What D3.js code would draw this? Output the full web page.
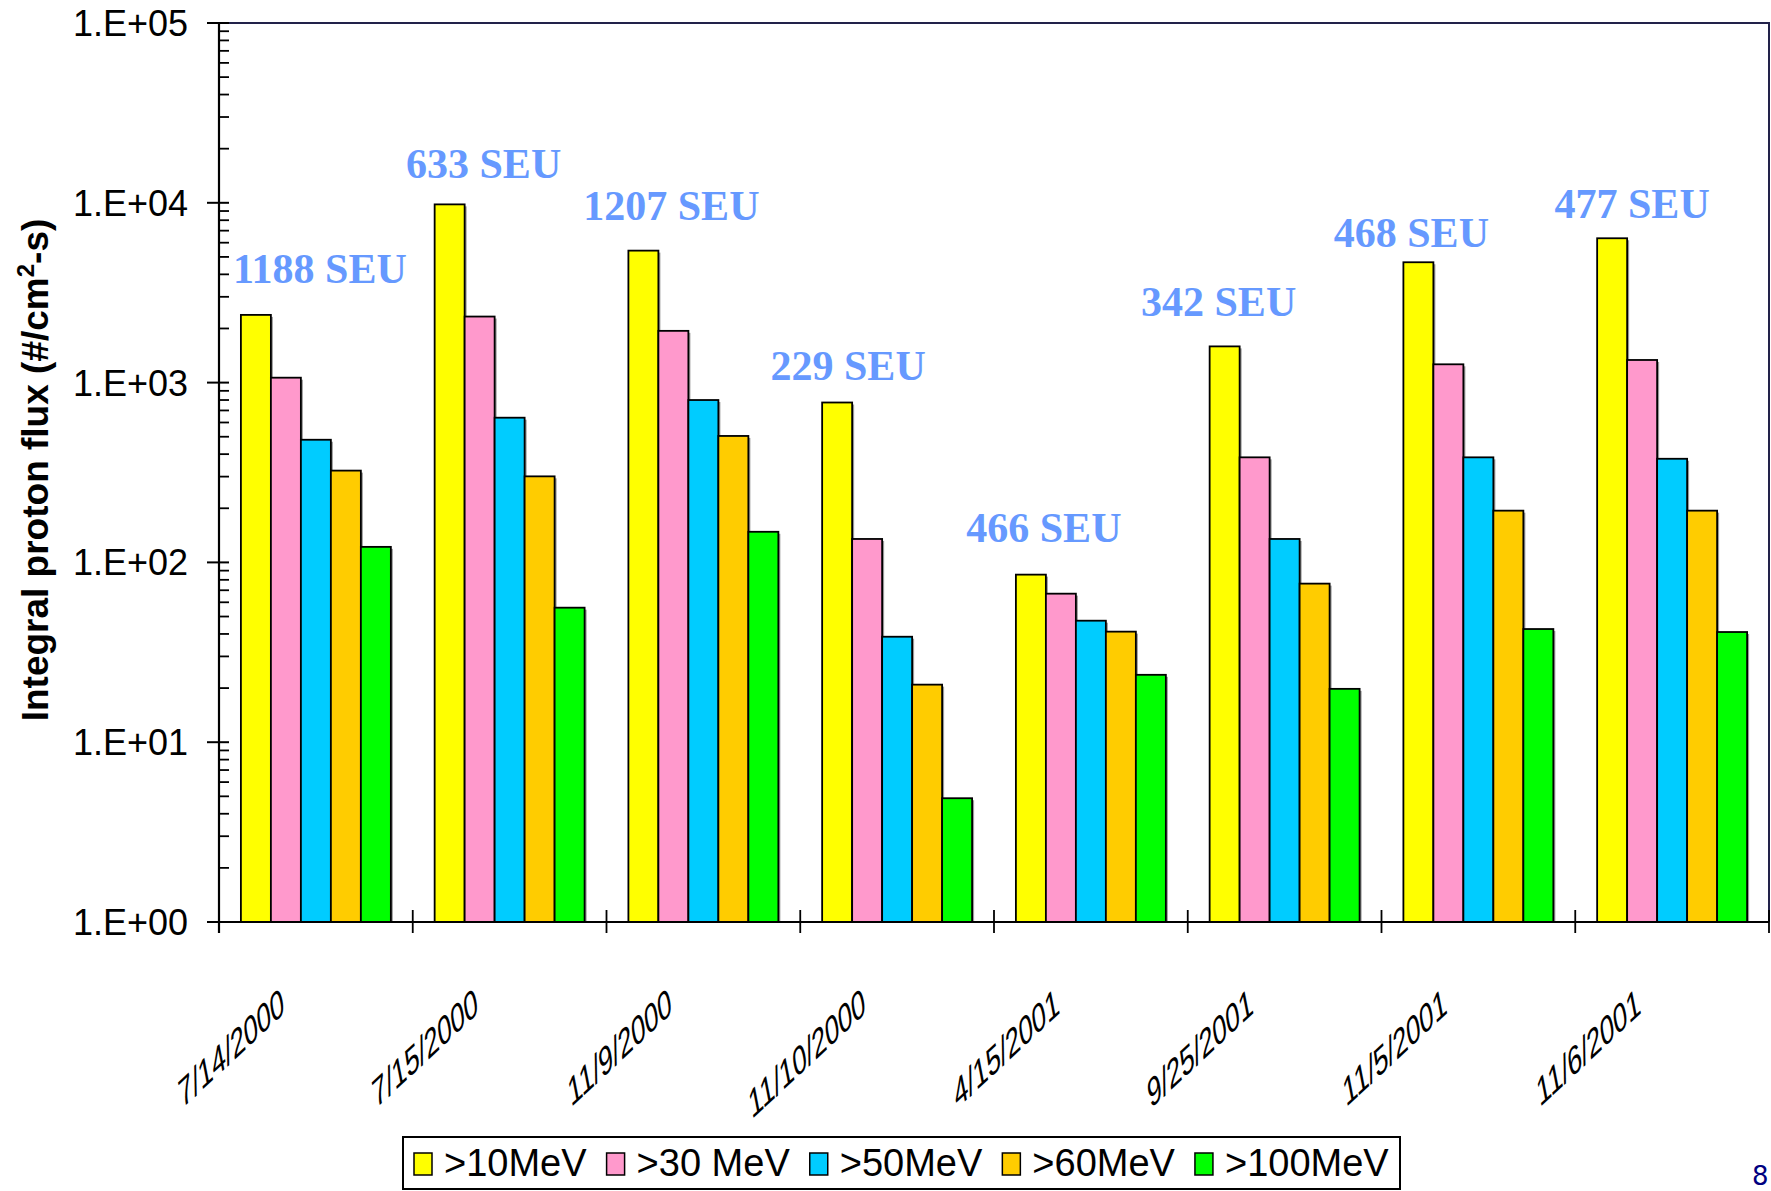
<!DOCTYPE html>
<html>
<head>
<meta charset="utf-8">
<script src="https://cdn.jsdelivr.net/npm/d3@7"></script>
<style>
  body { margin: 0; background: #fff; }
  svg { display: block; }
</style>
</head>
<body>
<svg id="chart" width="1771" height="1191"></svg>
<script>
// Solar proton events and the SEU count observed during each one
const events = ["7/14/2000", "7/15/2000", "11/9/2000", "11/10/2000",
                "4/15/2001", "9/25/2001", "11/5/2001", "11/6/2001"];
const seuCounts = [1188, 633, 1207, 229, 466, 342, 468, 477];

// Integral proton flux per energy channel, #/cm^2-s
const channels = [">10MeV", ">30 MeV", ">50MeV", ">60MeV", ">100MeV"];
const flux10  = [2380, 9800, 5420, 775, 85.5, 1590, 4670, 6350];
const flux30  = [1065, 2330, 1940, 135, 67, 384, 1264, 1336];
const flux50  = [481, 638, 800, 38.6, 47.4, 135, 384, 377];
const flux60  = [324, 301, 505, 20.9, 41.2, 76.2, 194, 194];
const flux100 = [122, 56, 148, 4.88, 23.7, 19.8, 42.6, 41];

const yTickValues = [1, 10, 100, 1000, 10000, 100000];
const yTickLabels = ["1.E+00", "1.E+01", "1.E+02", "1.E+03", "1.E+04", "1.E+05"];

const seriesColors = ["#FFFF00", "#FF99CC", "#00CCFF", "#FFCC00", "#00FF00"];
const fluxBySeries = [flux10, flux30, flux50, flux60, flux100];

// Placement of the SEU captions: offset from group centre, and baseline
// offset above the group's tallest bar
const seuLabelNudge = [[4, -32], [-26, -26], [-32, -31], [-49, -23],
                       [-47, -33], [-66, -30], [-67, -15], [-40, -20]];

const svg = d3.select("#chart");
const plotL = 219, plotR = 1769, plotT = 23, plotB = 922;

const x = d3.scaleBand().domain(events).range([plotL, plotR]).padding(0);
const xs = d3.scaleBand().domain(channels).range([0, x.bandwidth()])
  .paddingInner(0).paddingOuter(0.73);
const y = d3.scaleLog().domain([1, 1e5]).range([plotB, plotT]);

// plot frame (top and right edges)
svg.append("path")
  .attr("d", `M${plotL},${plotT}H${plotR}V${plotB}`)
  .attr("fill", "none").attr("stroke", "#22224a").attr("stroke-width", 2);

// bars, each with a thin grey drop shadow
const groups = svg.append("g").selectAll("g")
  .data(events).join("g")
  .attr("transform", d => `translate(${x(d)},0)`);

groups.each(function(ev, i) {
  const g = d3.select(this);
  channels.forEach((ch, s) => {
    const v = fluxBySeries[s][i];
    const bx = xs(ch), by = y(v), bw = xs.bandwidth();
    g.append("rect")
      .attr("x", bx + 2).attr("y", by + 2)
      .attr("width", bw).attr("height", plotB - by - 2)
      .attr("fill", "#9a9a9a");
    g.append("rect")
      .attr("x", bx).attr("y", by)
      .attr("width", bw).attr("height", plotB - by)
      .attr("fill", seriesColors[s])
      .attr("stroke", "#000").attr("stroke-width", 1.8);
  });
});

// SEU captions
svg.append("g").selectAll("text")
  .data(events).join("text")
  .attr("x", (d, i) => x(d) + x.bandwidth() / 2 + seuLabelNudge[i][0])
  .attr("y", (d, i) => y(d3.max(fluxBySeries, f => f[i])) + seuLabelNudge[i][1])
  .attr("text-anchor", "middle")
  .attr("font-family", "'Liberation Serif', 'Times New Roman', serif")
  .attr("font-weight", "bold")
  .attr("font-size", 42)
  .attr("fill", "#6699FF")
  .text((d, i) => `${seuCounts[i]} SEU`);

// y axis
const yAxis = svg.append("g");
yAxis.append("line")
  .attr("x1", plotL).attr("x2", plotL).attr("y1", plotT).attr("y2", plotB + 11)
  .attr("stroke", "#000").attr("stroke-width", 2.2);
const minors = [];
for (let e = 0; e < 5; e++) for (let m = 2; m <= 9; m++) minors.push(m * Math.pow(10, e));
yAxis.selectAll(".minor").data(minors).join("line")
  .attr("x1", plotL).attr("x2", plotL + 10)
  .attr("y1", d => y(d)).attr("y2", d => y(d))
  .attr("stroke", "#000").attr("stroke-width", 1.8);
yAxis.selectAll(".major").data(yTickValues).join("line")
  .attr("x1", plotL - 12).attr("x2", plotL + 10)
  .attr("y1", d => y(d)).attr("y2", d => y(d))
  .attr("stroke", "#000").attr("stroke-width", 2);
yAxis.selectAll("text").data(yTickValues).join("text")
  .attr("x", 188).attr("y", d => y(d)).attr("dy", "0.36em")
  .attr("text-anchor", "end")
  .attr("font-family", "'Liberation Sans', Arial, sans-serif")
  .attr("font-size", 36)
  .text((d, i) => yTickLabels[i]);

// y axis title
const yTitle = svg.append("text")
  .attr("transform", "translate(48,470) rotate(-90)")
  .attr("text-anchor", "middle")
  .attr("font-family", "'Liberation Sans', Arial, sans-serif")
  .attr("font-weight", "bold")
  .attr("font-size", 37);
yTitle.append("tspan").text("Integral proton flux (#/cm");
yTitle.append("tspan").attr("font-size", 24).attr("dy", -14).text("2");
yTitle.append("tspan").attr("dy", 14).text("-s)");

// x axis
const xAxis = svg.append("g");
xAxis.append("line")
  .attr("x1", plotL).attr("x2", plotR).attr("y1", plotB).attr("y2", plotB)
  .attr("stroke", "#000").attr("stroke-width", 2.2);
const boundaries = events.map(d => x(d)).concat([plotR]).slice(1);
xAxis.selectAll(".tick").data(boundaries).join("line")
  .attr("x1", d => d).attr("x2", d => d)
  .attr("y1", plotB - 12).attr("y2", plotB + 11)
  .attr("stroke", "#000").attr("stroke-width", 1.8);

// slanted category labels, ending just left of each group's centre
xAxis.selectAll(".lab").data(events).join("text")
  .attr("transform", d => `translate(${x(d) + x.bandwidth() / 2 - 30},1012) rotate(-43) skewX(-32)`)
  .attr("text-anchor", "end")
  .attr("font-family", "'Liberation Sans', Arial, sans-serif")
  .attr("font-size", 32)
  .text(d => d);

// legend
const legend = svg.append("g");
legend.append("rect")
  .attr("x", 403).attr("y", 1137).attr("width", 997).attr("height", 52)
  .attr("fill", "#fff").attr("stroke", "#000").attr("stroke-width", 2);
let lx = 414;
channels.forEach((ch, s) => {
  legend.append("rect")
    .attr("x", lx).attr("y", 1153).attr("width", 18).attr("height", 22)
    .attr("fill", seriesColors[s]).attr("stroke", "#000").attr("stroke-width", 1.5);
  const t = legend.append("text")
    .attr("x", lx + 30).attr("y", 1176)
    .attr("font-family", "'Liberation Sans', Arial, sans-serif")
    .attr("font-size", 38)
    .text(ch);
  lx += 30 + t.node().getComputedTextLength() + 20;
});

// slide number
svg.append("text")
  .attr("x", 1752).attr("y", 1185)
  .attr("font-family", "'DejaVu Sans', sans-serif")
  .attr("font-size", 26)
  .attr("fill", "#000080")
  .text("8");
</script>
</body>
</html>
